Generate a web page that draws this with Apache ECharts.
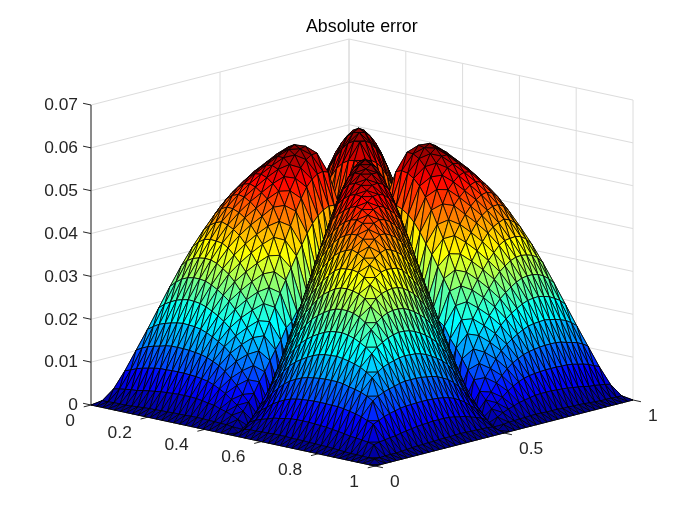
<!DOCTYPE html>
<html><head><meta charset="utf-8">
<style>html,body{margin:0;padding:0;background:#fff}#c{width:700px;height:525px}</style>
<script src="https://cdn.jsdelivr.net/npm/echarts@6/dist/echarts.min.js"></script>
</head><body><div id="c"></div>
<script>
const titleText = 'Absolute error';
const xTicks = [0,0.2,0.4,0.6,0.8,1];
const xTickLabels = ['0','0.2','0.4','0.6','0.8','1'];
const yTicks = [0,0.5,1];
const yTickLabels = ['0','0.5','1'];
const zTicks = [0,0.01,0.02,0.03,0.04,0.05,0.06,0.07];
const zTickLabels = ['0','0.01','0.02','0.03','0.04','0.05','0.06','0.07'];
const heightUnit = 1e-4;
// surface heights, in heightUnit, on a 49x49 mesh over [0,1]x[0,1]
const surfaceHeights = [
[0,0,0,0,0,0,0,0,0,0,0,0,0,0,0,0,0,0,0,0,0,0,0,0,0,0,0,0,0,0,0,0,0,0,0,0,0,0,0,0,0,0,0,0,0,0,0,0,0],
[0,10,10,11,11,11,12,13,14,15,15,16,16,17,17,17,18,18,18,17,17,16,16,14,3,14,16,16,17,17,18,18,18,17,17,17,16,16,15,15,14,13,12,11,11,11,10,10,0],
[0,10,37,40,42,44,45,48,50,52,54,55,56,57,57,57,56,54,51,49,44,40,35,28,7,28,35,40,44,49,51,54,56,57,57,57,56,55,54,52,50,48,45,44,42,40,37,10,0],
[0,11,40,79,84,90,94,97,100,102,102,103,103,103,102,101,99,96,91,84,76,65,55,44,11,44,55,65,76,84,91,96,99,101,102,103,103,103,102,102,100,97,94,90,84,79,40,11,0],
[0,11,42,84,127,135,141,145,148,152,154,154,154,153,151,149,145,139,132,122,109,95,77,62,17,62,77,95,109,122,132,139,145,149,151,153,154,154,154,152,148,145,141,135,127,84,42,11,0],
[0,11,44,90,135,175,185,193,198,202,205,207,206,205,202,197,190,182,173,161,145,126,108,79,24,79,108,126,145,161,173,182,190,197,202,205,206,207,205,202,198,193,185,175,135,90,44,11,0],
[0,12,45,94,141,185,225,237,245,252,256,259,258,256,251,244,236,226,214,198,181,161,138,103,31,103,138,161,181,198,214,226,236,244,251,256,258,259,256,252,245,237,225,185,141,94,45,12,0],
[0,13,48,97,145,193,237,275,288,298,304,307,307,305,299,291,281,270,254,237,217,197,169,123,42,123,169,197,217,237,254,270,281,291,299,305,307,307,304,298,288,275,237,193,145,97,48,13,0],
[0,14,50,100,148,198,245,288,323,338,346,350,352,351,346,337,327,312,294,276,255,233,201,146,52,146,201,233,255,276,294,312,327,337,346,351,352,350,346,338,323,288,245,198,148,100,50,14,0],
[0,15,52,102,152,202,252,298,338,367,381,390,393,392,390,382,368,353,335,315,294,270,231,168,65,168,231,270,294,315,335,353,368,382,390,392,393,390,381,367,338,298,252,202,152,102,52,15,0],
[0,15,54,102,154,205,256,304,346,381,407,420,429,434,429,422,411,394,376,355,333,304,261,187,77,187,261,304,333,355,376,394,411,422,429,434,429,420,407,381,346,304,256,205,154,102,54,15,0],
[0,16,55,103,154,207,259,307,350,390,420,444,458,465,464,458,449,435,416,396,372,338,292,213,90,213,292,338,372,396,416,435,449,458,464,465,458,444,420,390,350,307,259,207,154,103,55,16,0],
[0,16,56,103,154,206,258,307,352,393,429,458,478,489,494,491,483,471,455,435,412,373,318,224,103,224,318,373,412,435,455,471,483,491,494,489,478,458,429,393,352,307,258,206,154,103,56,16,0],
[0,17,57,103,153,205,256,305,351,392,434,465,489,505,515,519,514,504,492,476,446,405,343,245,116,245,343,405,446,476,492,504,514,519,515,505,489,465,434,392,351,305,256,205,153,103,57,17,0],
[0,17,57,102,151,202,251,299,346,390,429,464,494,515,529,539,541,536,525,510,480,435,368,259,129,259,368,435,480,510,525,536,541,539,529,515,494,464,429,390,346,299,251,202,151,102,57,17,0],
[0,17,57,101,149,197,244,291,337,382,422,458,491,519,539,550,559,561,555,541,511,466,390,277,143,277,390,466,511,541,555,561,559,550,539,519,491,458,422,382,337,291,244,197,149,101,57,17,0],
[0,18,56,99,145,190,236,281,327,368,411,449,483,514,541,559,570,579,579,566,537,493,414,294,157,294,414,493,537,566,579,579,570,559,541,514,483,449,411,368,327,281,236,190,145,99,56,18,0],
[0,18,54,96,139,182,226,270,312,353,394,435,471,504,536,561,579,588,595,585,558,516,434,310,170,310,434,516,558,585,595,588,579,561,536,504,471,435,394,353,312,270,226,182,139,96,54,18,0],
[0,18,51,91,132,173,214,254,294,335,376,416,455,492,525,555,579,595,603,596,574,531,449,324,183,324,449,531,574,596,603,595,579,555,525,492,455,416,376,335,294,254,214,173,132,91,51,18,0],
[0,17,49,84,122,161,198,237,276,315,355,396,435,476,510,541,566,585,596,599,582,540,459,335,195,335,459,540,582,599,596,585,566,541,510,476,435,396,355,315,276,237,198,161,122,84,49,17,0],
[0,17,44,76,109,145,181,217,255,294,333,372,412,446,480,511,537,558,574,582,583,543,465,345,206,345,465,543,583,582,574,558,537,511,480,446,412,372,333,294,255,217,181,145,109,76,44,17,0],
[0,16,40,65,95,126,161,197,233,270,304,338,373,405,435,466,493,516,531,540,543,538,464,359,215,359,464,538,543,540,531,516,493,466,435,405,373,338,304,270,233,197,161,126,95,65,40,16,0],
[0,16,35,55,77,108,138,169,201,231,261,292,318,343,368,390,414,434,449,459,465,464,458,355,223,355,458,464,465,459,449,434,414,390,368,343,318,292,261,231,201,169,138,108,77,55,35,16,0],
[0,14,28,44,62,79,103,123,146,168,187,213,224,245,259,277,294,310,324,335,345,359,355,350,228,350,355,359,345,335,324,310,294,277,259,245,224,213,187,168,146,123,103,79,62,44,28,14,0],
[0,3,7,11,17,24,31,42,52,65,77,90,103,116,129,143,157,170,183,195,206,215,223,228,229,228,223,215,206,195,183,170,157,143,129,116,103,90,77,65,52,42,31,24,17,11,7,3,0],
[0,14,28,44,62,79,103,123,146,168,187,213,224,245,259,277,294,310,324,335,345,359,355,350,228,350,355,359,345,335,324,310,294,277,259,245,224,213,187,168,146,123,103,79,62,44,28,14,0],
[0,16,35,55,77,108,138,169,201,231,261,292,318,343,368,390,414,434,449,459,465,464,458,355,223,355,458,464,465,459,449,434,414,390,368,343,318,292,261,231,201,169,138,108,77,55,35,16,0],
[0,16,40,65,95,126,161,197,233,270,304,338,373,405,435,466,493,516,531,540,543,538,464,359,215,359,464,538,543,540,531,516,493,466,435,405,373,338,304,270,233,197,161,126,95,65,40,16,0],
[0,17,44,76,109,145,181,217,255,294,333,372,412,446,480,511,537,558,574,582,583,543,465,345,206,345,465,543,583,582,574,558,537,511,480,446,412,372,333,294,255,217,181,145,109,76,44,17,0],
[0,17,49,84,122,161,198,237,276,315,355,396,435,476,510,541,566,585,596,599,582,540,459,335,195,335,459,540,582,599,596,585,566,541,510,476,435,396,355,315,276,237,198,161,122,84,49,17,0],
[0,18,51,91,132,173,214,254,294,335,376,416,455,492,525,555,579,595,603,596,574,531,449,324,183,324,449,531,574,596,603,595,579,555,525,492,455,416,376,335,294,254,214,173,132,91,51,18,0],
[0,18,54,96,139,182,226,270,312,353,394,435,471,504,536,561,579,588,595,585,558,516,434,310,170,310,434,516,558,585,595,588,579,561,536,504,471,435,394,353,312,270,226,182,139,96,54,18,0],
[0,18,56,99,145,190,236,281,327,368,411,449,483,514,541,559,570,579,579,566,537,493,414,294,157,294,414,493,537,566,579,579,570,559,541,514,483,449,411,368,327,281,236,190,145,99,56,18,0],
[0,17,57,101,149,197,244,291,337,382,422,458,491,519,539,550,559,561,555,541,511,466,390,277,143,277,390,466,511,541,555,561,559,550,539,519,491,458,422,382,337,291,244,197,149,101,57,17,0],
[0,17,57,102,151,202,251,299,346,390,429,464,494,515,529,539,541,536,525,510,480,435,368,259,129,259,368,435,480,510,525,536,541,539,529,515,494,464,429,390,346,299,251,202,151,102,57,17,0],
[0,17,57,103,153,205,256,305,351,392,434,465,489,505,515,519,514,504,492,476,446,405,343,245,116,245,343,405,446,476,492,504,514,519,515,505,489,465,434,392,351,305,256,205,153,103,57,17,0],
[0,16,56,103,154,206,258,307,352,393,429,458,478,489,494,491,483,471,455,435,412,373,318,224,103,224,318,373,412,435,455,471,483,491,494,489,478,458,429,393,352,307,258,206,154,103,56,16,0],
[0,16,55,103,154,207,259,307,350,390,420,444,458,465,464,458,449,435,416,396,372,338,292,213,90,213,292,338,372,396,416,435,449,458,464,465,458,444,420,390,350,307,259,207,154,103,55,16,0],
[0,15,54,102,154,205,256,304,346,381,407,420,429,434,429,422,411,394,376,355,333,304,261,187,77,187,261,304,333,355,376,394,411,422,429,434,429,420,407,381,346,304,256,205,154,102,54,15,0],
[0,15,52,102,152,202,252,298,338,367,381,390,393,392,390,382,368,353,335,315,294,270,231,168,65,168,231,270,294,315,335,353,368,382,390,392,393,390,381,367,338,298,252,202,152,102,52,15,0],
[0,14,50,100,148,198,245,288,323,338,346,350,352,351,346,337,327,312,294,276,255,233,201,146,52,146,201,233,255,276,294,312,327,337,346,351,352,350,346,338,323,288,245,198,148,100,50,14,0],
[0,13,48,97,145,193,237,275,288,298,304,307,307,305,299,291,281,270,254,237,217,197,169,123,42,123,169,197,217,237,254,270,281,291,299,305,307,307,304,298,288,275,237,193,145,97,48,13,0],
[0,12,45,94,141,185,225,237,245,252,256,259,258,256,251,244,236,226,214,198,181,161,138,103,31,103,138,161,181,198,214,226,236,244,251,256,258,259,256,252,245,237,225,185,141,94,45,12,0],
[0,11,44,90,135,175,185,193,198,202,205,207,206,205,202,197,190,182,173,161,145,126,108,79,24,79,108,126,145,161,173,182,190,197,202,205,206,207,205,202,198,193,185,175,135,90,44,11,0],
[0,11,42,84,127,135,141,145,148,152,154,154,154,153,151,149,145,139,132,122,109,95,77,62,17,62,77,95,109,122,132,139,145,149,151,153,154,154,154,152,148,145,141,135,127,84,42,11,0],
[0,11,40,79,84,90,94,97,100,102,102,103,103,103,102,101,99,96,91,84,76,65,55,44,11,44,55,65,76,84,91,96,99,101,102,103,103,103,102,102,100,97,94,90,84,79,40,11,0],
[0,10,37,40,42,44,45,48,50,52,54,55,56,57,57,57,56,54,51,49,44,40,35,28,7,28,35,40,44,49,51,54,56,57,57,57,56,55,54,52,50,48,45,44,42,40,37,10,0],
[0,10,10,11,11,11,12,13,14,15,15,16,16,17,17,17,18,18,18,17,17,16,16,14,3,14,16,16,17,17,18,18,18,17,17,17,16,16,15,15,14,13,12,11,11,11,10,10,0],
[0,0,0,0,0,0,0,0,0,0,0,0,0,0,0,0,0,0,0,0,0,0,0,0,0,0,0,0,0,0,0,0,0,0,0,0,0,0,0,0,0,0,0,0,0,0,0,0,0]
];
// jet colormap stops
const jetStops = [[0,0,0,131],[0.125,0,0,255],[0.375,0,255,255],[0.625,255,255,0],[0.875,255,0,0],[1,128,0,0]];

// orthographic view, fixed by the corners of the axes box
const VIEW = {ox:91, oy:405, xx:284, xy:61, yx:258, yy:-66, zy:-300/0.07};
function project(x,y,z){
  return [VIEW.ox + VIEW.xx*x + VIEW.yx*y, VIEW.oy + VIEW.xy*x + VIEW.yy*y + VIEW.zy*z];
}
const N = surfaceHeights.length - 1;
const zMax = Math.max.apply(null, surfaceHeights.map(r=>Math.max.apply(null,r)));
function jet(t){
  t = Math.max(0,Math.min(1,t));
  for(let k=1;k<jetStops.length;k++){
    if(t<=jetStops[k][0]){
      const a=jetStops[k-1], b=jetStops[k], f=(t-a[0])/(b[0]-a[0]);
      return 'rgb('+[1,2,3].map(c=>Math.round(a[c]+(b[c]-a[c])*f)).join(',')+')';
    }
  }
  return 'rgb(128,0,0)';
}
// triangles, back to front
const triangles=[];
for(let i=0;i<N;i++)for(let j=0;j<N;j++){
  triangles.push([i,j,0,i-j+1/3]);
  triangles.push([i,j,1,i-j-1/3]);
}
triangles.sort((a,b)=>a[3]-b[3]);

function segRender(color,width){
  return function(params,api){
    const p=project(api.value(0),api.value(1),api.value(2)), q=project(api.value(3),api.value(4),api.value(5));
    const a=api.coord(p), b=api.coord(q);
    return {type:'line',shape:{x1:a[0],y1:a[1],x2:b[0],y2:b[1]},style:{stroke:color,lineWidth:width,fill:null}};
  };
}
const gridSegs=[];
zTicks.forEach(z=>{gridSegs.push([0,0,z,0,1,z]);gridSegs.push([0,1,z,1,1,z]);});
yTicks.forEach(y=>{gridSegs.push([0,y,0,0,y,0.07]);gridSegs.push([0,y,0,1,y,0]);});
xTicks.forEach(x=>{gridSegs.push([x,1,0,x,1,0.07]);gridSegs.push([x,0,0,x,1,0]);});

const axisSegs=[[0,0,0,0,0,0.07],[0,0,0,1,0,0],[1,0,0,1,1,0]];
const TICK=0.028, TICKZ=0.028;
zTicks.forEach(z=>axisSegs.push([0,0,z,-TICKZ,0,z]));
xTicks.forEach(x=>axisSegs.push([x,0,0,x,-TICK,0]));
yTicks.forEach(y=>axisSegs.push([1,y,0,1+TICK,y,0]));

const labels=[];
xTicks.forEach((x,i)=>labels.push([x,0,0,-16,16,0,xTickLabels[i]]));
yTicks.forEach((y,i)=>labels.push([1,y,0,15,16,1,yTickLabels[i]]));
zTicks.forEach((z,i)=>labels.push([0,0,z,-13,0.5,0,zTickLabels[i]]));

const chart=echarts.init(document.getElementById('c'),null,{renderer:'canvas'});
chart.setOption({
  animation:false,
  backgroundColor:'#fff',
  title:{text:titleText,left:301,top:13,textStyle:{fontFamily:'Liberation Sans',fontSize:17.8,fontWeight:'normal',color:'#000'}},
  grid:{left:0,right:0,top:0,bottom:0},
  xAxis:{type:'value',min:0,max:700,show:false},
  yAxis:{type:'value',min:0,max:525,inverse:true,show:false},
  series:[
    {type:'custom',silent:true,coordinateSystem:'cartesian2d',data:gridSegs,renderItem:segRender('#dcdcdc',1),z:1},
    {type:'custom',silent:true,coordinateSystem:'cartesian2d',data:axisSegs,renderItem:segRender('#262626',1),z:2},
    {type:'custom',silent:true,coordinateSystem:'cartesian2d',progressive:0,data:triangles.map(t=>t.slice(0,3)),z:3,
      renderItem:function(params,api){
        const i=api.value(0), j=api.value(1), tri=api.value(2);
        const vs = tri===0 ? [[i,j],[i+1,j],[i+1,j+1]] : [[i,j],[i,j+1],[i+1,j+1]];
        let sum=0;
        const pts=vs.map(v=>{
          const h=surfaceHeights[v[0]][v[1]];
          sum+=h;
          return api.coord(project(v[0]/N,v[1]/N,h*heightUnit));
        });
        return {type:'polygon',shape:{points:pts},style:{fill:jet(sum/3/zMax),stroke:'#000',lineWidth:0.8}};
      }},
    {type:'custom',silent:true,coordinateSystem:'cartesian2d',data:labels,z:4,
      renderItem:function(params,api){
        const d=labels[params.dataIndex];
        const p=api.coord(project(d[0],d[1],d[2]));
        return {type:'text',style:{x:p[0]+d[3],y:p[1]+d[4],text:d[6],fill:'#262626',font:'17.4px "Liberation Sans"',align:d[5]?'left':'right',verticalAlign:'middle'}};
      }}
  ]
});
</script></body></html>
